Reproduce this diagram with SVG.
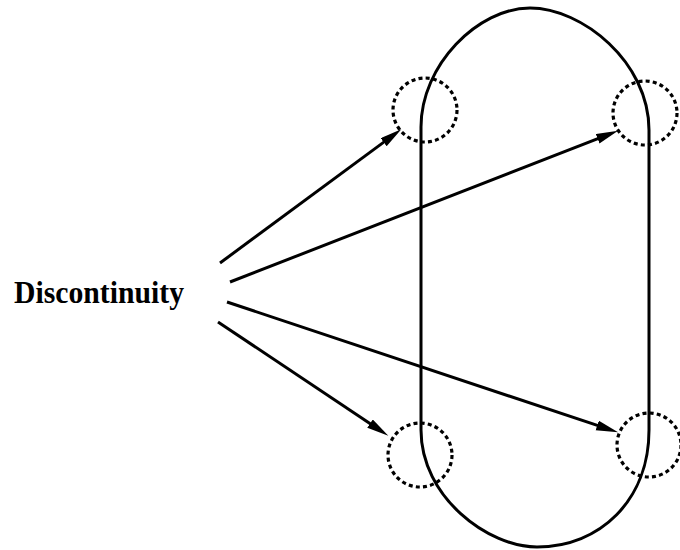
<svg xmlns="http://www.w3.org/2000/svg" width="680" height="550" viewBox="0 0 680 550">
<style>
.outline{fill:none;stroke:#000;stroke-width:3}
.dash{fill:none;stroke:#000;stroke-width:3.2;stroke-dasharray:4 3.2}
.conn{stroke:#000;stroke-width:3;fill:none}
.lbl{font-family:"Liberation Serif","Times New Roman",serif;font-weight:bold;font-size:31px;fill:#000}
</style>
<defs>
<marker id="ah" markerUnits="userSpaceOnUse" markerWidth="24" markerHeight="12" refX="12" refY="5" orient="auto">
<path d="M0,0 L22,5 L0,10 z" fill="#000"/>
</marker>
</defs>
<rect width="680" height="550" fill="#fff"/>
<g id="loop">
<path class="outline" d="M421 430 V127 C421 65 478 8 530 8 C582 8 649 62 649 130 V430 C649 500 600 547 537 547 C488 547 421 497 421 430 Z"/>
</g>
<g id="disc-tl"><circle class="dash" cx="425" cy="110" r="32"/></g>
<g id="disc-tr"><circle class="dash" cx="645" cy="113" r="32"/></g>
<g id="disc-bl"><circle class="dash" cx="420" cy="455" r="32"/></g>
<g id="disc-br"><circle class="dash" cx="649" cy="445" r="32"/></g>
<g id="label"><text class="lbl" x="14" y="303" textLength="170" lengthAdjust="spacingAndGlyphs">Discontinuity</text></g>
<g id="connectors">
<line class="conn" x1="220" y1="263" x2="393.3" y2="135.1" marker-end="url(#ah)"/>
<line class="conn" x1="230" y1="282" x2="608.8" y2="134.4" marker-end="url(#ah)"/>
<line class="conn" x1="227" y1="302" x2="608.6" y2="429.2" marker-end="url(#ah)"/>
<line class="conn" x1="218" y1="322" x2="380" y2="430.3" marker-end="url(#ah)"/>
</g>
</svg>
